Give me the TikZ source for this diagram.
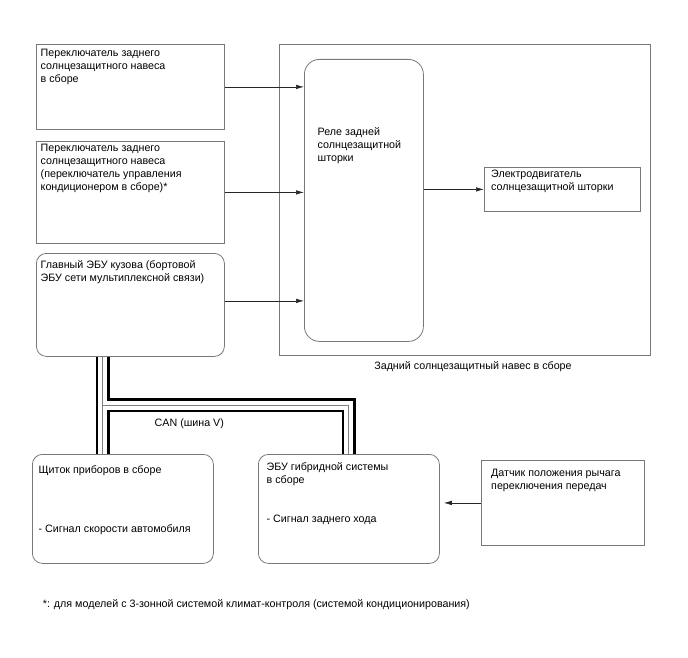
\documentclass[tikz,border=0pt]{standalone}
\usepackage{fontspec}
\setmainfont{Liberation Sans}
\usetikzlibrary{arrows.meta}
\definecolor{frame}{RGB}{120,120,120}

\begin{document}
\begin{tikzpicture}[x=1pt, y=-1pt,
    every node/.style={font=\fontsize{10.7}{13}\selectfont},
    blk/.style={draw=frame, line width=0.8pt, inner sep=0pt, anchor=north west},
    rblk/.style={blk, rounded corners=10pt},
    lbl/.style={anchor=north west, align=left, inner sep=0pt, execute at begin node=\strut},
    sig/.style={-{Latex[length=8pt,width=4.5pt]}, line width=0.6pt, black!85}]
  \useasboundingbox (0,0) rectangle (688,658);

  % switches and body ECU
  \node[blk, minimum width=188pt, minimum height=85pt] (sw1) at (36,44) {};
  \node[lbl] (sw1txt) at (40.5,49.4) {Переключатель заднего\\солнцезащитного навеса\\в сборе};
  \node[blk, minimum width=188pt, minimum height=102pt] (sw2) at (36,141) {};
  \node[lbl] (sw2txt) at (40.5,144.4) {Переключатель заднего\\солнцезащитного навеса\\(переключатель управления\\кондиционером в сборе)*};
  \node[rblk, minimum width=188pt, minimum height=103pt] (ecu) at (36,253) {};
  \node[lbl] (ecutxt) at (40.5,259.9) {Главный ЭБУ кузова (бортовой\\ЭБУ сети мультиплексной связи)};

  % rear sunshade assembly
  \node[blk, minimum width=371pt, minimum height=311pt] (shade) at (279,44) {};
  \node[anchor=base] (shadecap) at (473,369.5) {Задний солнцезащитный навес в сборе};
  \node[rblk, rounded corners=15pt, minimum width=119pt, minimum height=282pt] (relay) at (304,59) {};
  \node[lbl] (relaytxt) at (317.5,127.4) {Реле задней\\солнцезащитной\\шторки};
  \node[blk, minimum width=156pt, minimum height=44pt] (motor) at (484,167) {};
  \node[lbl] (motortxt) at (491,169.9) {Электродвигатель\\солнцезащитной шторки};

  \draw[sig] (sw1.east) -- (sw1.east -| relay.west);
  \draw[sig] (sw2.east) -- (sw2.east -| relay.west);
  \draw[sig] ([yshift=4pt]ecu.east) -- ([yshift=4pt]ecu.east -| relay.west);
  \draw[sig] (relay.east |- motor.west) -- (motor.west);

  % CAN bus
  \node[rblk, minimum width=181pt, minimum height=109pt] (meter) at (32,454) {};
  \node[lbl] (metertxt) at (38.5,465.4) {Щиток приборов в сборе\\[46pt]- Сигнал скорости автомобиля};
  \node[rblk, minimum width=181pt, minimum height=109pt] (hv) at (258,454) {};
  \node[lbl] (hvtxt) at (266.5,462.4) {ЭБУ гибридной системы\\в сборе\\[26pt]- Сигнал заднего хода};
  \coordinate (canj) at (102.5,405);
  \foreach \w/\c in {14/black,9/white,1/gray}
    \draw[line width=\w pt, draw=\c] (ecu.south -| canj) -- (meter.north -| canj)
      (canj) -- (canj -| hv.north) -- (hv.north);
  \node[lbl] (cantxt) at (154.5,416.9) {CAN (шина V)};

  \node[blk, minimum width=163pt, minimum height=85pt] (shift) at (481,460) {};
  \node[lbl] (shifttxt) at (491,468.9) {Датчик положения рычага\\переключения передач};
  \draw[sig] (shift.west) -- ([xshift=4pt]shift.west -| hv.east);

  \node[lbl] (note) at (42.7,598.4) {*: для моделей с 3-зонной системой климат-контроля (системой кондиционирования)};
\end{tikzpicture}
\end{document}
